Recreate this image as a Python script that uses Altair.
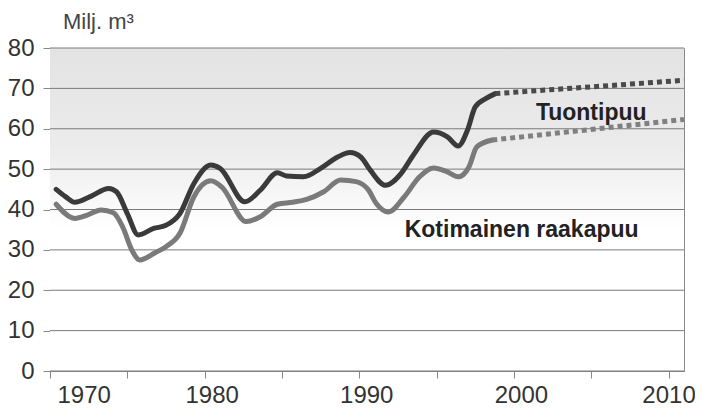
import altair as alt
import pandas as pd

# Tuontipuu (total incl. imported wood), solid history
tuonti_years = [1970.4, 1971.0, 1971.6, 1972.6, 1973.8, 1974.3, 1975.0, 1975.7, 1976.7, 1977.5,
                1978.4, 1979.3, 1980.4, 1981.0, 1982.6, 1983.6, 1984.7, 1985.3, 1986.4, 1987.5,
                1988.6, 1989.4, 1990.1, 1990.7, 1991.7, 1992.7, 1993.5, 1994.8, 1995.7, 1996.4,
                1997.0, 1997.5, 1998.2, 1998.8]
tuonti_values = [45.0, 43.2, 41.8, 43.2, 45.2, 44.4, 39.0, 33.7, 35.3, 36.1,
                 39.0, 46.4, 51.0, 50.2, 41.9, 44.8, 49.1, 48.3, 48.1, 50.2,
                 53.0, 54.1, 53.0, 49.8, 46.0, 48.9, 53.5, 59.2, 58.0, 55.7,
                 59.7, 65.4, 67.5, 68.7]
tuonti_proj_years = [1998.8, 2011.0]
tuonti_proj_values = [68.7, 72.0]

# Kotimainen raakapuu (domestic roundwood), solid history
koti_years = [1970.4, 1971.6, 1972.4, 1973.3, 1974.1, 1974.7, 1975.3, 1975.8, 1976.8, 1977.5,
              1978.4, 1979.3, 1980.4, 1981.1, 1982.7, 1983.6, 1984.7, 1985.7, 1986.6, 1987.7,
              1988.8, 1989.8, 1990.6, 1991.1, 1991.9, 1992.9, 1993.9, 1994.8, 1995.7, 1996.4,
              1997.1, 1997.6, 1998.6]
koti_values = [41.3, 37.8, 38.6, 39.9, 39.2, 35.7, 29.9, 27.5, 29.3, 30.8,
               34.1, 43.1, 47.1, 45.6, 37.0, 38.2, 41.3, 41.8, 42.5, 44.4,
               47.3, 46.9, 44.8, 41.5, 39.4, 43.1, 48.1, 50.3, 49.3, 48.1,
               50.6, 55.5, 57.2]
koti_proj_years = [1998.6, 2011.0]
koti_proj_values = [57.2, 62.3]

label_texts = ["Tuontipuu", "Kotimainen raakapuu"]
label_years = [2005.0, 2000.5]
label_values = [62.1, 33.2]

x_ticks = [1970, 1975, 1980, 1985, 1990, 1995, 2000, 2005, 2010]
y_ticks = [0, 10, 20, 30, 40, 50, 60, 70, 80]

W, H = 634, 323
FONT = "Liberation Sans"

x_scale = alt.Scale(domain=[1970, 2011], nice=False, zero=False)
y_scale = alt.Scale(domain=[0, 80], nice=False)

x_axis = alt.Axis(values=x_ticks, format="d",
                  labelExpr="datum.value % 10 === 0 ? datum.label : ''",
                  title=None, grid=False, tickSize=7, labelPadding=5,
                  labelOffset={"condition": {"test": "datum.value === 2010", "value": 0}, "value": 7},
                  labelFontSize=24, labelColor="#333333", labelFont=FONT,
                  domainColor="#888888", tickColor="#888888")
y_axis = alt.Axis(values=y_ticks, title=None, grid=False,
                  tickSize=7, labelPadding=9, labelFontSize=24, labelColor="#333333",
                  labelFont=FONT, domainColor="#888888", tickColor="#888888")


def line_df(xs, ys):
    return pd.DataFrame({"year": xs, "value": ys})


base_enc = dict(
    x=alt.X("year:Q", scale=x_scale, axis=x_axis),
    y=alt.Y("value:Q", scale=y_scale, axis=y_axis),
)

bg = alt.Chart(alt.Data(values=[{"a": 1}])).mark_rect(
    color=alt.LinearGradient(gradient="linear", x1=0, x2=0, y1=0, y2=1,
                             stops=[alt.GradientStop(offset=0, color="#e3e3e3"),
                                    alt.GradientStop(offset=0.3, color="#ebebeb"),
                                    alt.GradientStop(offset=0.56, color="#ffffff"),
                                    alt.GradientStop(offset=1, color="#ffffff")])
).encode(x=alt.value(0), x2=alt.value(W), y=alt.value(0), y2=alt.value(H))

grid = alt.Chart(pd.DataFrame({"value": y_ticks})).mark_rule(
    color="#7a7a7a", strokeWidth=1
).encode(y=alt.Y("value:Q", scale=y_scale, axis=y_axis))

tuonti = alt.Chart(line_df(tuonti_years, tuonti_values)).mark_line(
    color="#3a3a3a", strokeWidth=5, interpolate="monotone", strokeCap="round"
).encode(**base_enc)

koti = alt.Chart(line_df(koti_years, koti_values)).mark_line(
    color="#7a7a7a", strokeWidth=5, interpolate="monotone", strokeCap="round"
).encode(**base_enc)

tuonti_p = alt.Chart(line_df(tuonti_proj_years, tuonti_proj_values)).mark_line(
    color="#4a4a4a", strokeWidth=5, strokeDash=[5, 4]
).encode(**base_enc)

koti_p = alt.Chart(line_df(koti_proj_years, koti_proj_values)).mark_line(
    color="#808080", strokeWidth=5, strokeDash=[5, 4]
).encode(**base_enc)

labels = alt.Chart(pd.DataFrame({"t": label_texts, "year": label_years, "value": label_values})).mark_text(
    font=FONT, fontSize=23, fontWeight="bold", color="#222222", align="center", baseline="alphabetic"
).encode(x=alt.X("year:Q", scale=x_scale), y=alt.Y("value:Q", scale=y_scale), text="t:N")

unit = alt.Chart(alt.Data(values=[{"t": "Milj. m³"}])).mark_text(
    font=FONT, fontSize=22, color="#444444", align="left", baseline="alphabetic"
).encode(x=alt.value(13), y=alt.value(-19), text="t:N")

chart = alt.layer(bg, grid, tuonti, koti, tuonti_p, koti_p, labels, unit).properties(
    width=W, height=H,
    padding={"left": 42, "top": 40, "right": 11, "bottom": 38},
    autosize=alt.AutoSizeParams(type="none"),
).configure_view(
    stroke="#8a8a8a",
)

chart.save("out.html", embed_options={"renderer": "svg", "actions": False})
